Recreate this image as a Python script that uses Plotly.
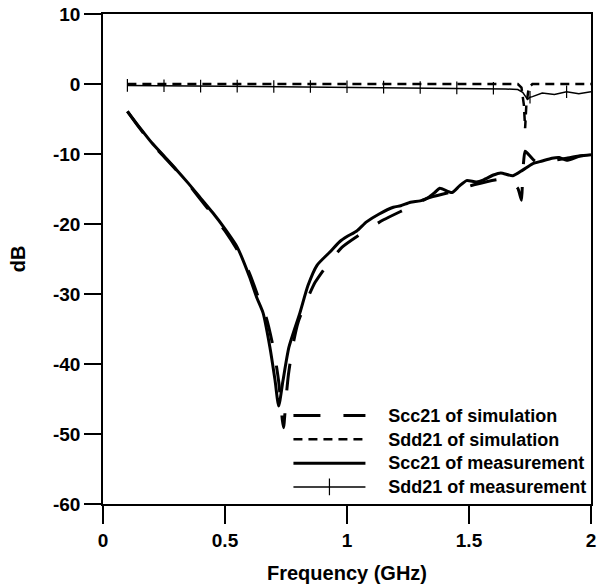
import plotly.graph_objects as go

# ---------------- data ----------------
scc21_sim_f = [0.10, 0.15, 0.20, 0.25, 0.30, 0.35, 0.40, 0.45, 0.50, 0.55, 0.60, 0.64, 0.67,
               0.70, 0.72, 0.735, 0.74, 0.75, 0.76, 0.78, 0.80, 0.84, 0.87, 0.92, 0.98,
               1.07, 1.15, 1.25, 1.33, 1.43, 1.52, 1.63, 1.67, 1.70, 1.715, 1.72, 1.73,
               1.74, 1.77, 1.80, 1.85, 1.90, 1.95, 2.00]
scc21_sim_db = [-3.9, -6.3, -8.5, -10.4, -12.3, -14.3, -16.5, -18.7, -21.0, -23.7, -27.0, -30.8, -33.5,
                -38.0, -42.5, -48.0, -49.1, -45.0, -41.5, -37.0, -34.0, -30.5, -28.3, -25.8, -23.3,
                -21.1, -19.4, -17.7, -16.3, -15.4, -14.4, -13.6, -14.0, -14.9, -16.6, -13.0, -9.6,
                -9.9, -11.0, -11.3, -10.9, -10.6, -10.3, -10.1]

sdd21_sim_f = [0.10, 0.50, 1.00, 1.50, 1.70, 1.715, 1.725, 1.73, 1.735, 1.745, 1.76, 2.00]
sdd21_sim_db = [0.0, 0.0, 0.0, 0.0, 0.0, -0.5, -3.0, -6.3, -3.0, -0.5, 0.0, 0.0]

scc21_meas_f = [0.10, 0.15, 0.20, 0.25, 0.30, 0.35, 0.40, 0.45, 0.50, 0.55, 0.60, 0.63, 0.656,
                0.684, 0.705, 0.72, 0.738, 0.762, 0.807, 0.84, 0.877, 0.93, 0.971, 1.00, 1.04,
                1.08, 1.13, 1.19, 1.22, 1.26, 1.30, 1.33, 1.36, 1.38, 1.43, 1.46, 1.49, 1.53,
                1.56, 1.60, 1.63, 1.68, 1.72, 1.76, 1.80, 1.84, 1.87, 1.90, 1.955, 2.00]
scc21_meas_db = [-3.9, -6.2, -8.4, -10.3, -12.2, -14.2, -16.3, -18.4, -20.7, -23.3, -27.5, -30.5, -32.7,
                 -37.6, -42.3, -46.0, -42.3, -37.6, -32.7, -28.8, -25.9, -24.0, -22.5, -21.8, -21.0,
                 -19.7, -18.6, -17.6, -17.4, -16.9, -16.7, -16.3, -15.5, -14.9, -15.5, -14.6, -13.8, -14.0,
                 -13.7, -13.0, -12.7, -13.1, -12.3, -11.4, -11.0, -10.6, -10.5, -10.9, -10.3, -10.1]

sdd21_meas_f = [0.10, 0.25, 0.40, 0.55, 0.70, 0.85, 1.00, 1.15, 1.30, 1.45, 1.60, 1.65, 1.70,
                1.72, 1.74, 1.75, 1.76, 1.80, 1.85, 1.90, 1.95, 2.00]
sdd21_meas_db = [-0.2, -0.25, -0.3, -0.3, -0.35, -0.35, -0.4, -0.45, -0.5, -0.55, -0.6, -0.7, -0.8,
                 -1.2, -2.2, -1.9, -1.8, -1.3, -1.5, -1.1, -1.4, -1.1]
sdd21_marker_f = [0.10, 0.25, 0.40, 0.55, 0.70, 0.85, 1.00, 1.15, 1.30, 1.45, 1.60, 1.75, 1.90]

x_ticks = [0, 0.5, 1, 1.5, 2]
x_tick_labels = ["0", "0.5", "1", "1.5", "2"]
y_ticks = [10, 0, -10, -20, -30, -40, -50, -60]
y_tick_labels = ["10", "0", "-10", "-20", "-30", "-40", "-50", "-60"]

names = ["Scc21 of simulation", "Sdd21 of simulation", "Scc21 of measurement", "Sdd21 of measurement"]

# ---------------- figure ----------------
FONT = "Arial, Liberation Sans, Helvetica, sans-serif"
PAD = "\u00a0" * 4


def leg(name):
    return PAD + '<span style="font-size:18px">' + name + "</span>"


fig = go.Figure()

fig.add_trace(go.Scatter(x=scc21_sim_f, y=scc21_sim_db, mode="lines", name=leg(names[0]),
                         line=dict(color="black", width=3, dash="27px,23px", shape="spline", smoothing=0.6)))
fig.add_trace(go.Scatter(x=sdd21_sim_f, y=sdd21_sim_db, mode="lines", name=leg(names[1]),
                         line=dict(color="black", width=2.5, dash="9px,6px")))
fig.add_trace(go.Scatter(x=scc21_meas_f, y=scc21_meas_db, mode="lines", name=leg(names[2]),
                         line=dict(color="black", width=3, shape="spline", smoothing=0.6)))
fig.add_trace(go.Scatter(x=sdd21_meas_f, y=sdd21_meas_db, mode="lines", name=names[3],
                         showlegend=False, line=dict(color="black", width=1.5)))
mk_y = [sdd21_meas_db[sdd21_meas_f.index(f)] for f in sdd21_marker_f]
fig.add_trace(go.Scatter(x=sdd21_marker_f, y=mk_y, mode="markers", showlegend=False,
                         marker=dict(symbol="line-ns", size=9, line=dict(width=1.2, color="black"))))
# legend entry for the measured Sdd21 (line with tick marker)
fig.add_trace(go.Scatter(x=[None], y=[None], mode="lines+markers", name=leg(names[3]),
                         line=dict(color="black", width=1.5),
                         marker=dict(symbol="line-ns", size=12, line=dict(width=1.2, color="black"))))

axis_common = dict(showline=True, linecolor="black", linewidth=1.5, mirror=True, automargin=False,
                   showgrid=False, zeroline=False, ticks="outside", tickcolor="black",
                   tickwidth=1.5, tickfont=dict(family=FONT, size=19, color="black", weight="bold"))

fig.update_xaxes(range=[0, 2], tickvals=x_ticks, ticktext=x_tick_labels, ticklen=18,
                 title=dict(text="Frequency (GHz)", font=dict(family=FONT, size=20, color="black", weight="bold"),
                            standoff=16),
                 **axis_common)
fig.update_yaxes(range=[-60, 10], tickvals=y_ticks, ticktext=y_tick_labels, ticklen=17,
                 title=dict(text="dB", font=dict(family=FONT, size=20, color="black", weight="bold"),
                            standoff=22),
                 **axis_common)

fig.update_layout(
    width=607, height=586,
    margin=dict(l=103, r=16, t=14, b=82),
    plot_bgcolor="white", paper_bgcolor="white",
    legend=dict(x=0.38, y=0.215, xanchor="left", yanchor="top",
                bgcolor="rgba(0,0,0,0)", borderwidth=0, itemwidth=72,
                font=dict(family=FONT, size=16, color="black", weight="bold"),
                tracegroupgap=0),
)

fig.write_html("out.html")
